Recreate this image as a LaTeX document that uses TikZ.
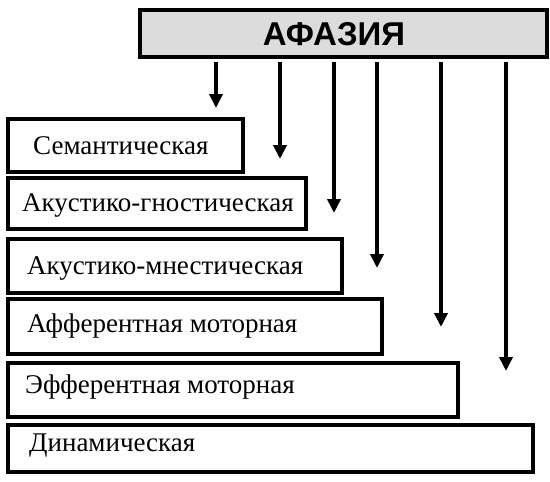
\documentclass[tikz,border=0pt]{standalone}
\usepackage{fontspec}
\setmainfont{Liberation Serif}
\newfontfamily\headfont{Liberation Sans}
\usetikzlibrary{arrows.meta}
\definecolor{headgray}{HTML}{DCDCDC}
\tikzset{
  x=1pt,y=-1pt,
  levelbox/.style={draw=black,line width=3.5pt,fill=white},
  leveltext/.style={anchor=west,inner sep=0pt,font=\fontsize{27}{30}\selectfont},
  downarrow/.style={line width=3.5pt,-{Triangle[width=13pt,length=14pt]}},
}
\begin{document}
\begin{tikzpicture}
\useasboundingbox (0,0) rectangle (550,482);
% header
\draw[line width=4pt,fill=headgray] (140,10) rectangle (547,57);
\node[font=\headfont\bfseries\fontsize{33}{36}\selectfont,inner sep=0pt] (head) at (334,34) {АФАЗИЯ};
% level boxes
\draw[levelbox] (8,119) rectangle (243,172);
\draw[levelbox] (8,178) rectangle (306,229);
\draw[levelbox] (8,239) rectangle (342,293);
\draw[levelbox] (8,299) rectangle (382,354);
\draw[levelbox] (8,363) rectangle (458,417);
\draw[levelbox] (8,425) rectangle (533,472);
\node[leveltext] (t1) at (33,146) {Семантическая};
\node[leveltext] (t2) at (22,205) {Акустико-гностическая};
\node[leveltext] (t3) at (27,268) {Акустико-мнестическая};
\node[leveltext] (t4) at (27,326) {Афферентная моторная};
\node[leveltext] (t5) at (25,387) {Эфферентная моторная};
\node[leveltext] (t6) at (29,446) {Динамическая};
% arrows
\coordinate (s1) at (216,62); \coordinate (e1) at (216,108);
\coordinate (s2) at (280,62); \coordinate (e2) at (280,159);
\coordinate (s3) at (334,62); \coordinate (e3) at (334,213);
\coordinate (s4) at (377,62); \coordinate (e4) at (377,268);
\coordinate (s5) at (441,62); \coordinate (e5) at (441,327);
\coordinate (s6) at (506,62); \coordinate (e6) at (506,371);
\foreach \i in {1,...,6} \draw[downarrow] (s\i) -- (e\i);
\end{tikzpicture}
\end{document}
